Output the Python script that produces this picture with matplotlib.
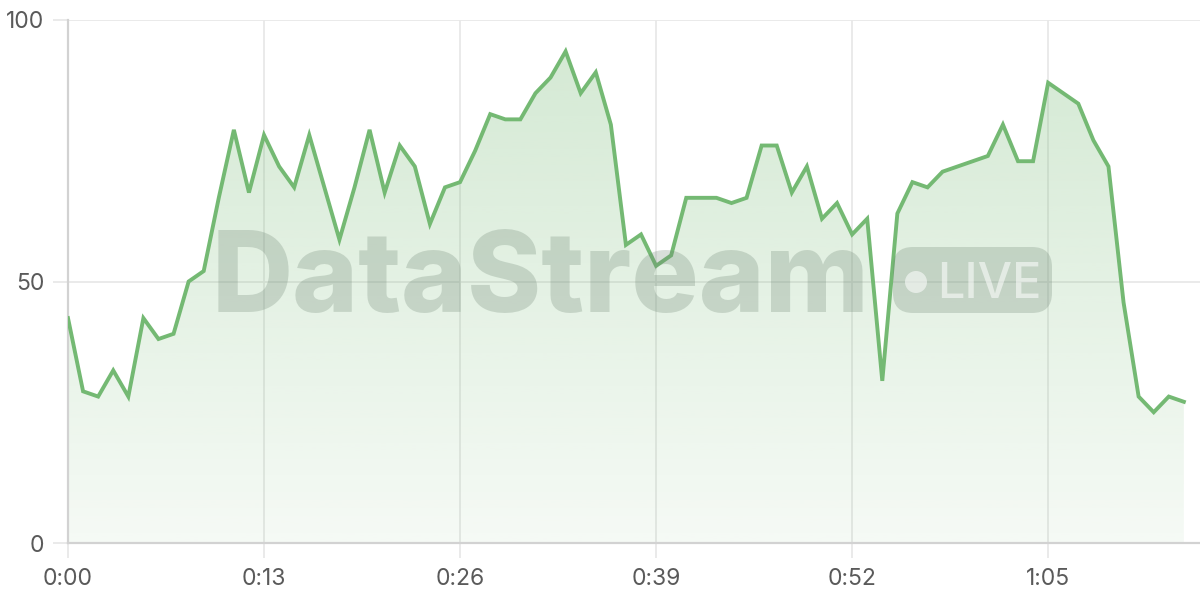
import numpy as np
import matplotlib
matplotlib.use("Agg")
import matplotlib.pyplot as plt
from matplotlib.patches import FancyBboxPatch, Circle
from matplotlib.transforms import IdentityTransform

# seconds since start, one sample per second
t = np.arange(75)
values = [43, 29, 28, 33, 28, 43, 39, 40, 50, 52,
          66, 79, 67, 78, 72, 68, 78, 68, 58, 68,
          79, 67, 76, 72, 61, 68, 69, 75, 82, 81,
          81, 86, 89, 94, 86, 90, 80, 57, 59, 53,
          55, 66, 66, 66, 65, 66, 76, 76, 67, 72,
          62, 65, 59, 62, 31, 63, 69, 68, 71, 72,
          73, 74, 80, 73, 73, 88, 86, 84, 77, 72,
          46, 28, 25, 28, 27]
xticks = [0, 13, 26, 39, 52, 65]
yticks = [0, 50, 100]

GREEN = "#74b973"
GRID = "#e8e8e8"
TXT = "#5a5a5a"

plt.rcParams["font.family"] = ["Inter", "DejaVu Sans"]

fig = plt.figure(figsize=(12, 6), dpi=100)
ax = fig.add_axes([68/1200, 57/600, 1 - 68/1200, 523/600])
ax.set_xlim(0, 75.07)
ax.set_ylim(0, 100)

# gradient fill under the line
poly = ax.fill_between(t, values, 0, color="none", lw=0)
grad = np.zeros((256, 1, 4))
grad[..., 0], grad[..., 1], grad[..., 2] = 116/255, 185/255, 115/255
grad[:, 0, 3] = np.linspace(0.32, 0.07, 256)
im = ax.imshow(grad, extent=[0, t[-1], 0, 100], aspect="auto", origin="upper", zorder=1)
im.set_clip_path(poly.get_paths()[0], transform=ax.transData)
ax.plot(t, values, color=GREEN, lw=2.8, zorder=4, solid_joinstyle="miter")

ax.set_xticks(xticks)
ax.set_xticklabels([f"{s // 60}:{s % 60:02d}" for s in xticks])
ax.set_yticks(yticks)
ax.grid(True, color=GRID, lw=1.3, zorder=0)
ax.set_axisbelow(True)
for s in ["top", "right"]:
    ax.spines[s].set_visible(False)
for s in ["left", "bottom"]:
    ax.spines[s].set_color("#d2d2d2")
    ax.spines[s].set_linewidth(1.6)
ax.tick_params(length=11, width=1.3, color=GRID, labelcolor=TXT, labelsize=16.5)
ax.tick_params(axis="x", pad=7)
ax.tick_params(axis="y", pad=6)

# watermark
wm_col = "#6f8574"
wm = fig.text(212, 600 - 312, "DataStream", transform=IdentityTransform(),
              fontsize=80, fontweight="heavy", color=wm_col, alpha=0.27,
              ha="left", va="baseline", zorder=3)
r = fig.canvas.get_renderer()
w = wm.get_window_extent(r).width
wm.set_fontsize(80 * 658 / w)

badge = FancyBboxPatch((893, 287), 159, 66, boxstyle="round,pad=0,rounding_size=20",
                       transform=IdentityTransform(), facecolor=wm_col, edgecolor="none",
                       alpha=0.27, zorder=3)
fig.add_artist(badge)
fig.add_artist(Circle((916, 318), 11, transform=IdentityTransform(),
                      facecolor="white", edgecolor="none", alpha=0.55, zorder=3))
fig.text(937, 302, "LIVE", transform=IdentityTransform(), fontsize=35,
         fontweight="medium", color="white", alpha=0.55, ha="left", va="baseline", zorder=3)

fig.savefig("out.png", dpi=100)
